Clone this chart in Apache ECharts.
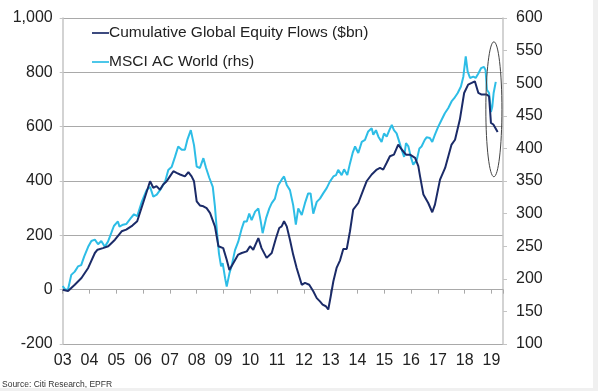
<!DOCTYPE html>
<html>
<head>
<meta charset="utf-8">
<script src="https://cdn.jsdelivr.net/npm/echarts@6/dist/echarts.min.js"></script>
<style>
html,body{margin:0;padding:0;background:#fff;}
#c{width:598px;height:391px;}
</style>
</head>
<body>
<div id="c"></div>
<script>
// ---- data (year as decimal) ----
var flowYears = [2003.0,2003.2,2003.45,2003.7,2003.95,2004.2,2004.3,2004.5,2004.7,2004.95,2005.2,2005.37,2005.6,2005.78,2006.0,2006.26,2006.38,2006.5,2006.63,2006.75,2006.88,2007.0,2007.13,2007.25,2007.38,2007.56,2007.69,2007.81,2007.9,2008.0,2008.12,2008.25,2008.37,2008.5,2008.68,2008.81,2008.99,2009.12,2009.22,2009.37,2009.55,2009.68,2009.87,2009.99,2010.11,2010.3,2010.42,2010.61,2010.8,2010.96,2011.08,2011.17,2011.26,2011.36,2011.48,2011.6,2011.73,2011.92,2012.04,2012.2,2012.35,2012.48,2012.6,2012.7,2012.82,2012.91,2013.0,2013.1,2013.22,2013.35,2013.47,2013.6,2013.72,2013.84,2014.03,2014.22,2014.34,2014.53,2014.72,2014.84,2014.96,2015.09,2015.21,2015.36,2015.52,2015.65,2015.81,2015.96,2016.15,2016.27,2016.33,2016.46,2016.64,2016.79,2016.89,2017.08,2017.27,2017.51,2017.64,2017.82,2017.89,2017.98,2018.13,2018.26,2018.38,2018.51,2018.63,2018.82,2018.91,2018.98,2019.07,2019.23];
var flowValues = [0,-5,18,43,80,135,147,153,160,184,215,221,236,252,319,399,375,381,368,387,399,417,436,430,424,417,433,417,399,325,310,307,300,282,233,160,153,110,72,98,129,135,141,160,147,190,153,117,135,190,227,233,252,233,184,129,80,18,25,18,-6,-31,-43,-55,-61,-73,-25,31,80,108,150,150,215,295,319,368,399,424,442,448,442,467,491,497,534,516,497,497,485,455,420,350,319,285,313,405,448,534,552,626,632,724,755,761,767,724,718,718,712,614,608,580];

var msciYears = [2003.0,2003.1,2003.2,2003.32,2003.45,2003.57,2003.69,2003.8,2003.95,2004.07,2004.2,2004.32,2004.44,2004.57,2004.69,2004.81,2004.91,2005.06,2005.12,2005.25,2005.37,2005.54,2005.66,2005.78,2005.95,2006.13,2006.26,2006.38,2006.51,2006.63,2006.82,2006.94,2007.07,2007.19,2007.31,2007.44,2007.56,2007.65,2007.78,2007.9,2008.0,2008.12,2008.25,2008.35,2008.47,2008.6,2008.68,2008.75,2008.83,2008.91,2008.97,2009.06,2009.12,2009.22,2009.31,2009.43,2009.55,2009.68,2009.77,2009.87,2009.96,2010.05,2010.18,2010.3,2010.39,2010.46,2010.59,2010.71,2010.8,2010.92,2011.04,2011.17,2011.26,2011.36,2011.48,2011.6,2011.7,2011.79,2011.92,2012.04,2012.16,2012.25,2012.35,2012.48,2012.6,2012.72,2012.85,2012.97,2013.1,2013.2,2013.28,2013.41,2013.5,2013.62,2013.72,2013.82,2013.91,2014.03,2014.16,2014.28,2014.4,2014.53,2014.59,2014.69,2014.78,2014.9,2014.99,2015.09,2015.19,2015.28,2015.36,2015.46,2015.56,2015.65,2015.74,2015.81,2015.9,2015.99,2016.08,2016.21,2016.31,2016.39,2016.51,2016.58,2016.7,2016.79,2016.89,2017.01,2017.14,2017.26,2017.39,2017.51,2017.61,2017.74,2017.86,2017.95,2018.04,2018.11,2018.2,2018.32,2018.41,2018.51,2018.61,2018.72,2018.78,2018.83,2018.91,2018.98,2019.03,2019.08,2019.16];
var msciValues = [189,183,184,206,211,219,221,234,249,258,260,253,258,249,257,270,281,288,280,283,284,293,299,296,318,336,341,326,329,336,349,367,372,387,403,398,398,413,428,405,372,370,385,370,355,341,311,275,239,219,224,201,188,208,221,244,257,277,288,288,300,290,303,308,288,270,293,308,316,323,343,352,357,344,336,313,283,308,298,316,331,331,300,318,323,331,339,349,357,359,367,359,368,359,377,393,403,393,410,413,426,431,421,428,418,410,423,418,428,436,428,423,410,398,387,408,403,387,375,382,400,403,413,417,416,410,421,433,444,454,462,472,477,485,495,510,541,518,508,510,508,515,523,525,520,490,485,456,464,485,502];

var seriesNames = ['Cumulative Global Equity Flows ($bn)', 'MSCI AC World (rhs)'];
var leftAxisRange = [-200, 1000, 200];
var rightAxisRange = [100, 600, 50];
var xRange = [2003, 2019.43, 1];
var sourceText = 'Source: Citi Research, EPFR';
// annotation ellipse (x in years, y on rhs axis): centre and half-extents
var ellipseCentre = [2019.09, 460];
var ellipseHalf = [0.30, 103.5];

function pairs(xs, ys){ return xs.map(function(x,i){ return [x, ys[i]]; }); }

var NAVY = '#1b2b68';
var CYAN = '#2dbde6';
var GRID = '#a9a9a9';
var AXIS = '#c4c4c4';
var TXT = '#222';
var FONT = '"Liberation Sans", Arial, sans-serif';

var chart = echarts.init(document.getElementById('c'), null, {renderer:'canvas'});
var option = {
  animation:false,
  backgroundColor:'#fff',
  textStyle:{fontFamily:FONT},
  grid:{left:62.7, right:95, top:18, bottom:47, containLabel:false},
  legend:{
    data:seriesNames,
    orient:'vertical',
    left:87, top:19,
    itemWidth:17, itemHeight:2.5, itemGap:11,
    icon:'path://M0,0 L20,0 L20,2 L0,2 Z',
    textStyle:{fontSize:15.5, color:TXT, fontFamily:FONT, lineHeight:18, padding:[0,0,0,-5]}
  },
  xAxis:[{
    type:'value', min:xRange[0], max:xRange[1], interval:xRange[2],
    axisLine:{show:true, onZero:true, onZeroAxisIndex:0, lineStyle:{color:GRID, width:1}},
    axisTick:{show:true, inside:false, length:4, lineStyle:{color:GRID}},
    axisLabel:{show:false},
    splitLine:{show:false}
  },{
    type:'value', position:'bottom', min:xRange[0], max:xRange[1], interval:xRange[2],
    axisLine:{show:false, onZero:false},
    axisTick:{show:false},
    splitLine:{show:false},
    axisLabel:{show:true, margin:9, fontSize:16, color:TXT, fontFamily:FONT, showMaxLabel:false,
      formatter:function(v){ if (Math.abs(v-Math.round(v))>1e-6) return ''; var s=String(Math.round(v)%100); return s.length<2?'0'+s:s; }}
  }],
  yAxis:[{
    type:'value', position:'left', min:leftAxisRange[0], max:leftAxisRange[1], interval:leftAxisRange[2],
    axisLine:{show:true, lineStyle:{color:AXIS, width:1.5}},
    axisTick:{show:true, length:3, lineStyle:{color:AXIS}},
    splitLine:{show:true, lineStyle:{color:GRID, width:1}},
    axisLabel:{margin:10, fontSize:16, color:TXT, fontFamily:FONT,
      formatter:function(v){ return v.toLocaleString('en-US'); }}
  },{
    type:'value', position:'right', min:rightAxisRange[0], max:rightAxisRange[1], interval:rightAxisRange[2],
    axisLine:{show:true, lineStyle:{color:AXIS, width:1.5}},
    axisTick:{show:true, length:4, lineStyle:{color:AXIS}},
    splitLine:{show:false},
    axisLabel:{margin:13, fontSize:16, color:TXT, fontFamily:FONT}
  }],
  series:[{
    name:seriesNames[0], type:'line', xAxisIndex:0, yAxisIndex:0,
    data:pairs(flowYears, flowValues), showSymbol:false, symbol:'none',
    lineStyle:{color:NAVY, width:2}, itemStyle:{color:NAVY}, z:3
  },{
    name:seriesNames[1], type:'line', xAxisIndex:0, yAxisIndex:1,
    data:pairs(msciYears, msciValues), showSymbol:false, symbol:'none',
    lineStyle:{color:CYAN, width:2}, itemStyle:{color:CYAN}, z:2
  }]
};
chart.setOption(option);

var c = chart.convertToPixel({xAxisIndex:0, yAxisIndex:1}, ellipseCentre);
var e1 = chart.convertToPixel({xAxisIndex:0, yAxisIndex:1}, [ellipseCentre[0]+ellipseHalf[0], ellipseCentre[1]+ellipseHalf[1]]);
chart.setOption({
  graphic:[{
    type:'ellipse', shape:{cx:c[0], cy:c[1], rx:Math.abs(e1[0]-c[0]), ry:Math.abs(c[1]-e1[1])},
    style:{fill:null, stroke:'#444', lineWidth:1}, z:10
  },{
    type:'text', left:2, top:380,
    style:{text:sourceText, fontSize:8.5, fill:'#333', fontFamily:'"Liberation Sans Narrow", "Liberation Sans", Arial, sans-serif'}
  },{
    type:'rect', shape:{x:593, y:0, width:5, height:391}, style:{fill:'#f0f0f0'}, silent:true
  },{
    type:'rect', shape:{x:0, y:388, width:598, height:3}, style:{fill:'#f0f0f0'}, silent:true
  }]
});
</script>
</body>
</html>
